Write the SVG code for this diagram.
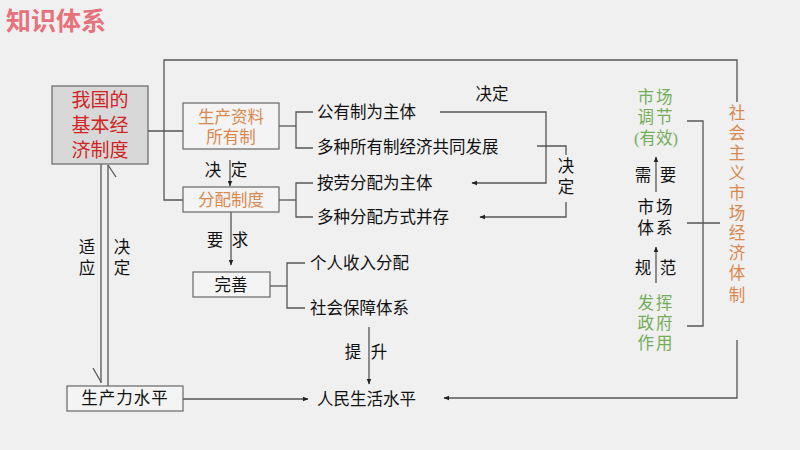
<svg xmlns="http://www.w3.org/2000/svg" width="800" height="450" viewBox="0 0 800 450">
<defs>
<style>
text{font-family:"Liberation Serif","Noto Sans CJK SC",serif;dominant-baseline:central;fill:#111}
.t{font-size:16.5px}
.c{text-anchor:middle}
.or{fill:#d9884f}
.gr{fill:#74ad5a}
.red{fill:#d02424}
.ln{fill:none;stroke:#555;stroke-width:1.3}
.bx{fill:#f4f4f4;stroke:#666;stroke-width:1.2}
</style>
<marker id="ah" viewBox="0 0 10 10" refX="9" refY="5" markerWidth="6" markerHeight="6" orient="auto" markerUnits="userSpaceOnUse">
<path d="M0,1 L10,5 L0,9 Z" fill="#222"/>
</marker>
</defs>
<rect width="800" height="450" fill="#f0f0f0"/>
<text x="6" y="19" style="font-size:25px;font-weight:bold;fill:#e6727c;font-family:'Noto Sans CJK SC',sans-serif">知识体系</text>

<g id="connectors">
<!-- main to right frame -->
<polyline class="ln" points="148,131 183,131"/>
<polyline class="ln" points="183,200 164,200 164,60 737,60 737,102"/>
<polyline class="ln" points="737,340 737,398 444,398" marker-end="url(#ah)"/>
<!-- ownership bracket -->
<polyline class="ln" points="279,126 296,126"/>
<polyline class="ln" points="313,112 296,112 296,148 313,148"/>
<polyline class="ln" points="279,200 296,200"/>
<polyline class="ln" points="313,183 296,183 296,217 313,217"/>
<!-- decide connectors -->
<polyline class="ln" points="440,112 546,112 546,183 472,183" marker-end="url(#ah)"/>
<polyline class="ln" points="537,146 566,146 566,155"/>
<polyline class="ln" points="566,202 566,217 480,217" marker-end="url(#ah)"/>
<line class="ln" x1="230" y1="160" x2="230" y2="186" marker-end="url(#ah)"/>
<line class="ln" x1="231" y1="212" x2="231" y2="265" marker-end="url(#ah)"/>
<!-- wanshan bracket -->
<polyline class="ln" points="270,286 287,286"/>
<polyline class="ln" points="305,263 287,263 287,308 305,308"/>
<line class="ln" x1="369" y1="327" x2="369" y2="384" marker-end="url(#ah)"/>
<line class="ln" x1="183" y1="399" x2="308" y2="399" marker-end="url(#ah)"/>
<!-- double line -->
<line class="ln" x1="101" y1="164" x2="101" y2="383"/>
<line class="ln" x1="93" y1="368" x2="101" y2="382"/>
<line class="ln" x1="108" y1="386" x2="108" y2="165"/>
<line class="ln" x1="108" y1="165" x2="116" y2="177"/>
<!-- right bracket -->
<polyline class="ln" points="687,121 703,121 703,326 687,326"/>
<line class="ln" x1="687" y1="223" x2="720" y2="223"/>
<line class="ln" x1="656" y1="192" x2="656" y2="157" marker-end="url(#ah)"/>
<line class="ln" x1="656" y1="283" x2="656" y2="247" marker-end="url(#ah)"/>
</g>

<g id="main">
<rect x="52" y="86" width="96" height="78" fill="#d8d8d8" stroke="#666" stroke-width="1.2"/>
<text class="c red" x="100" y="100" style="font-size:19px">我国的</text>
<text class="c red" x="100" y="125" style="font-size:19px">基本经</text>
<text class="c red" x="100" y="150" style="font-size:19px">济制度</text>
</g>
<g id="ownership">
<rect class="bx" x="183" y="103" width="96" height="46"/>
<text class="c or t" x="231" y="117">生产资料</text>
<text class="c or t" x="231" y="137">所有制</text>
</g>
<g id="distribution">
<rect class="bx" x="183" y="187" width="96" height="25"/>
<text class="c or t" x="231" y="200">分配制度</text>
</g>
<g id="wanshan">
<rect class="bx" x="193" y="272" width="77" height="25"/>
<text class="c t" x="231" y="285">完善</text>
</g>
<g id="productivity">
<rect class="bx" x="67" y="386" width="116" height="25"/>
<text class="c t" x="125" y="398" letter-spacing="1">生产力水平</text>
</g>

<g id="labels">
<text class="t" x="317" y="112">公有制为主体</text>
<text class="t" x="317" y="147">多种所有制经济共同发展</text>
<text class="t" x="317" y="183">按劳分配为主体</text>
<text class="t" x="317" y="217">多种分配方式并存</text>
<text class="t" x="310" y="263">个人收入分配</text>
<text class="t" x="310" y="308">社会保障体系</text>
<text class="t" x="317" y="399">人民生活水平</text>
<text class="c t" x="492" y="94">决定</text>
<text class="c t" x="566" y="166">决</text>
<text class="c t" x="566" y="187">定</text>
<text class="c t" x="213" y="170">决</text>
<text class="c t" x="239" y="170">定</text>
<text class="c t" x="215" y="240">要</text>
<text class="c t" x="240" y="240">求</text>
<text class="c t" x="353" y="352">提</text>
<text class="c t" x="379" y="352">升</text>
<text class="c t" x="87" y="247">适</text>
<text class="c t" x="87" y="268">应</text>
<text class="c t" x="122" y="247">决</text>
<text class="c t" x="122" y="268">定</text>
</g>

<g id="market">
<text class="c gr t" x="656" y="97" letter-spacing="2">市场</text>
<text class="c gr t" x="656" y="117" letter-spacing="2">调节</text>
<text class="c gr t" x="656" y="138">(有效)</text>
<text class="c t" x="643" y="175">需</text>
<text class="c t" x="668" y="175">要</text>
<text class="c t" x="656" y="207" letter-spacing="2">市场</text>
<text class="c t" x="656" y="228" letter-spacing="2">体系</text>
<text class="c t" x="643" y="268">规</text>
<text class="c t" x="668" y="268">范</text>
<text class="c gr t" x="656" y="303" letter-spacing="2">发挥</text>
<text class="c gr t" x="656" y="323" letter-spacing="2">政府</text>
<text class="c gr t" x="656" y="343" letter-spacing="2">作用</text>
</g>
<g id="socialist">
<text class="c or t" x="737" y="113">社</text>
<text class="c or t" x="737" y="133">会</text>
<text class="c or t" x="737" y="153">主</text>
<text class="c or t" x="737" y="173">义</text>
<text class="c or t" x="737" y="193">市</text>
<text class="c or t" x="737" y="213">场</text>
<text class="c or t" x="737" y="233">经</text>
<text class="c or t" x="737" y="253">济</text>
<text class="c or t" x="737" y="273">体</text>
<text class="c or t" x="737" y="295">制</text>
</g>
</svg>
